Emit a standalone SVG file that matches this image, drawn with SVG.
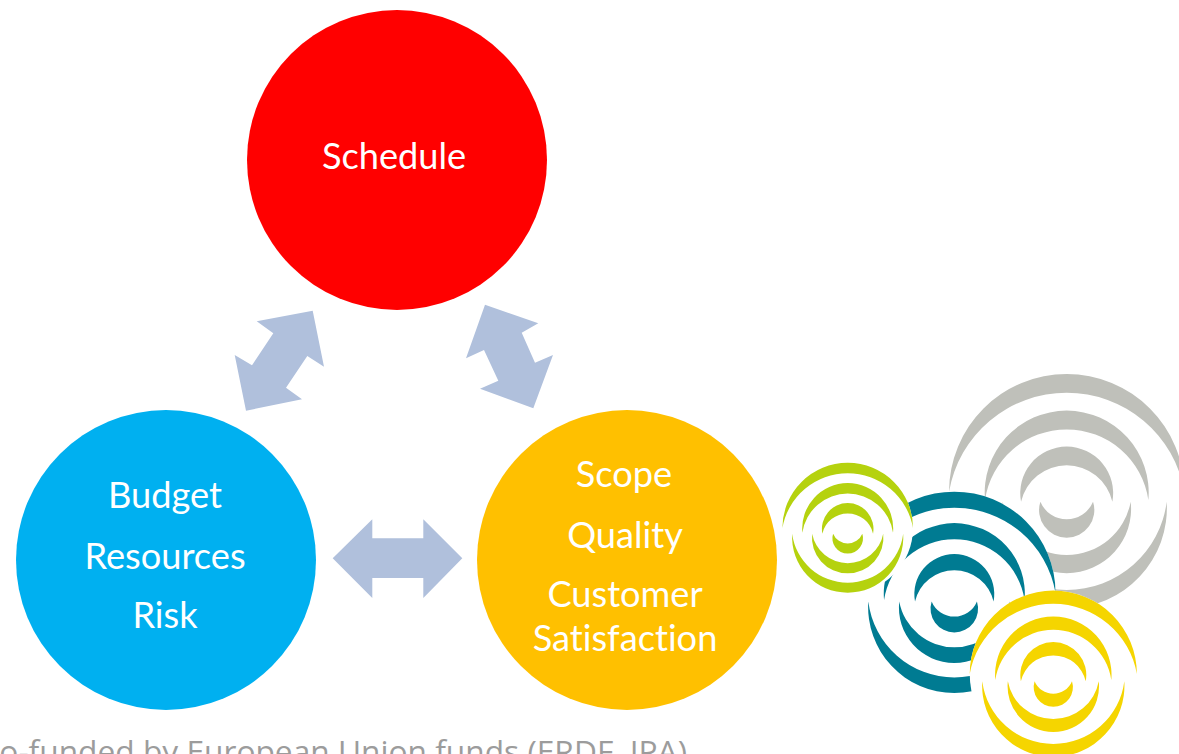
<svg xmlns="http://www.w3.org/2000/svg" width="1179" height="754" viewBox="0 0 1179 754">
<style>
.label{font-family:"Lato","Noto Sans",sans-serif;font-size:36.2px;fill:#fff;text-anchor:middle;font-variant-ligatures:none}
.arrow{fill:#B0C0DC}
.disc{fill:#fff}
.foot{font-family:"Open Sans","Noto Sans",sans-serif;font-size:31.7px;fill:#9C9C9C;text-anchor:end}
</style>
<defs>
<g id="spiral">
<circle class="disc" cx="0" cy="-25" r="353"/>
<path d="M-353 -25A353 353 0 0 1 353 -25A358.3 358.3 0 0 0 -353 -25Z"/>
<path d="M-245 0A246 246 0 1 1 245 0A247.6 247.6 0 0 0 -245 0Z"/>
<path d="M-137 5A139.4 139.4 0 1 1 137 5A140.6 140.6 0 0 0 -137 5Z"/>
<path d="M79 5A82.9 82.9 0 1 1 -79 5A85.4 85.4 0 0 0 79 5Z"/>
<path d="M192 5A193.2 193.2 0 1 1 -192 5A195.2 195.2 0 0 0 192 5Z"/>
<path d="M300 5A300.6 300.6 0 1 1 -300 5A302.3 302.3 0 0 0 300 5Z"/>
</g>
</defs>
<rect width="1179" height="754" fill="#fff"/>
<g id="connectors">
<polygon class="arrow" points="312.7,310.7 324,366.7 307.3,356 286,387.7 302,399.3 246,410.7 234.7,355 252,365.3 273.3,333.3 256.7,321.3"/>
<polygon class="arrow" points="485,304.7 538.3,323.3 521.7,332.7 535,362.7 553,355 533.3,408.3 480,388.7 498.3,380.7 484,350 466,358.3"/>
<polygon class="arrow" points="332.7,558.3 372.3,519.3 372.3,538.3 423.3,538.3 423.3,519.3 462.3,558.3 423.3,598 423.3,578 372.3,578 372.3,598"/>
</g>
<g id="schedule">
<circle cx="397" cy="160" r="150" fill="#FF0000"/>
<text class="label" x="394" y="169">Schedule</text>
</g>
<g id="budget">
<circle cx="166" cy="560" r="150" fill="#00B0F0"/>
<text class="label" x="165" y="508">Budget</text>
<text class="label" x="165" y="569">Resources</text>
<text class="label" x="165" y="628">Risk</text>
</g>
<g id="scope">
<circle cx="627" cy="560" r="150" fill="#FFC000"/>
<text class="label" x="624" y="487">Scope</text>
<text class="label" x="625" y="548">Quality</text>
<text class="label" x="625" y="607">Customer</text>
<text class="label" x="625" y="651">Satisfaction</text>
</g>
<g id="logo">
<use href="#spiral" transform="translate(1066.7 500) scale(.3333)" fill="#BFC0BA"/>
<use href="#spiral" transform="translate(954.3 600) scale(.2867)" fill="#007B92"/>
<use href="#spiral" transform="translate(1053.3 680) scale(.2367)" fill="#F5D500"/>
<use href="#spiral" transform="translate(847.7 532.7) scale(.185)" fill="#B5D20E"/>
</g>
<text class="foot" x="687" y="763">Co-funded by European Union funds (ERDF, IPA)</text>
</svg>
